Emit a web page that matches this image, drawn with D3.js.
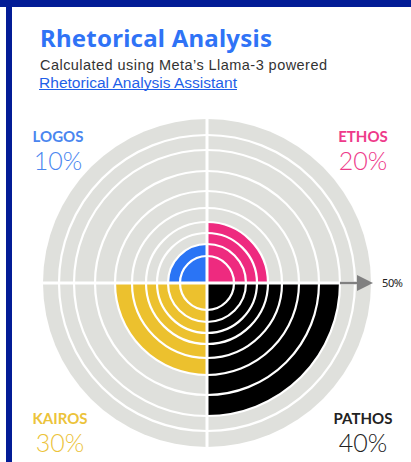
<!DOCTYPE html>
<html>
<head>
<meta charset="utf-8">
<script src="https://cdn.jsdelivr.net/npm/d3@7"></script>
<style>
  body { margin: 0; background: #fff; }
  svg { display: block; }
</style>
</head>
<body>
<div class="viz"></div>
<script>
// data
var categories = ["LOGOS", "ETHOS", "PATHOS", "KAIROS"];
var values = [10, 20, 40, 30];
var colors = ["#2a74f5", "#ee2a7f", "#000000", "#ecc12e"];
var labelColors = ["#4a86ef", "#ee3a8a", "#222222", "#ecc33a"];
var ringSteps = [5, 10, 15, 20, 25, 30, 35, 40, 45];
var maxValue = 50;

// dimensions
var width = 411, height = 462;
var cx = 207, cy = 283;

// radial scale (read off the picture, not linear)
var rScale = d3.scaleLinear()
    .domain([0, 5, 10, 15, 20, 25, 30, 35, 40, 45, 50])
    .range([0, 27, 39, 50, 61, 75, 92, 112, 133, 148, 164]);

var svg = d3.select(".viz")
    .append("svg")
    .attr("width", width)
    .attr("height", height);

// frame
svg.append("rect").attr("x", 0).attr("y", 0).attr("width", width).attr("height", 7).attr("fill", "#031c96");
svg.append("rect").attr("x", 6).attr("y", 0).attr("width", 6).attr("height", height).attr("fill", "#031c96");

// titles
svg.append("text")
    .attr("x", 40).attr("y", 47)
    .attr("textLength", 232).attr("lengthAdjust", "spacing")
    .style("font-family", "'Noto Sans', sans-serif")
    .style("font-weight", "700")
    .style("font-size", "24px")
    .attr("fill", "#2f73f6")
    .text("Rhetorical Analysis");
svg.append("text")
    .attr("x", 40).attr("y", 70)
    .attr("textLength", 287).attr("lengthAdjust", "spacing")
    .style("font-family", "'Liberation Sans', sans-serif")
    .style("font-size", "14.5px")
    .attr("fill", "#333")
    .text("Calculated using Meta\u2019s Llama-3 powered");
svg.append("text")
    .attr("x", 39).attr("y", 87.5)
    .attr("textLength", 198).attr("lengthAdjust", "spacingAndGlyphs")
    .style("font-family", "'Liberation Sans', sans-serif")
    .style("font-size", "14px")
    .attr("fill", "#1f5fe8")
    .text("Rhetorical Analysis Assistant");
// underline drawn as one line so it stays continuous
svg.append("line")
    .attr("x1", 39).attr("x2", 237)
    .attr("y1", 89.5).attr("y2", 89.5)
    .attr("stroke", "#1f5fe8").attr("stroke-width", 1);

var g = svg.append("g").attr("transform", "translate(" + cx + "," + cy + ")");

// grey background disc
g.append("circle").attr("r", rScale(maxValue)).attr("fill", "#dfe0dc");

// quadrant wedges
var angles = {
    LOGOS: [-Math.PI / 2, 0],
    ETHOS: [0, Math.PI / 2],
    PATHOS: [Math.PI / 2, Math.PI],
    KAIROS: [Math.PI, Math.PI * 1.5]
};
var arc = d3.arc().innerRadius(0);

g.selectAll(".wedge")
    .data(categories)
    .enter()
    .append("path")
    .attr("class", "wedge")
    .attr("d", (d, i) => arc({ outerRadius: rScale(values[i]), startAngle: angles[d][0], endAngle: angles[d][1] }))
    .attr("fill", (d, i) => colors[i]);

// white rings
g.selectAll(".ring")
    .data(ringSteps)
    .enter()
    .append("circle")
    .attr("class", "ring")
    .attr("r", d => rScale(d))
    .attr("fill", "none")
    .attr("stroke", "#fff")
    .attr("stroke-width", 2.2);

// white cross
var R = rScale(maxValue);
g.append("line").attr("x1", -R).attr("x2", R).attr("y1", 0).attr("y2", 0).attr("stroke", "#fff").attr("stroke-width", 3);
g.append("line").attr("y1", -R).attr("y2", R).attr("x1", 0).attr("x2", 0).attr("stroke", "#fff").attr("stroke-width", 3);

// arrow to max value
var maxCat = values.indexOf(d3.max(values));
var x0 = rScale(values[maxCat]);
g.append("line")
    .attr("x1", x0).attr("x2", R - 12)
    .attr("y1", 0).attr("y2", 0)
    .attr("stroke", "#808080").attr("stroke-width", 2.5);
g.append("path")
    .attr("d", "M" + (R - 14) + ",-8L" + (R + 2) + ",0L" + (R - 14) + ",8Z")
    .attr("fill", "#808080");
g.append("text")
    .attr("x", R + 11).attr("y", 4)
    .style("font-family", "'Noto Sans', sans-serif")
    .style("font-size", "11px")
    .style("letter-spacing", "-0.4px")
    .attr("fill", "#222")
    .text(maxValue + "%");

// corner labels
var labelPos = {
    LOGOS: [58, 142],
    ETHOS: [363, 142],
    PATHOS: [363, 424],
    KAIROS: [60, 424]
};
categories.forEach(function(d, i) {
    svg.append("text")
        .attr("x", labelPos[d][0]).attr("y", labelPos[d][1])
        .attr("text-anchor", "middle")
        .style("font-family", "Lato, sans-serif")
        .style("font-weight", "700")
        .style("font-size", "15px")
        .attr("fill", labelColors[i])
        .text(d);
    svg.append("text")
        .attr("x", labelPos[d][0]).attr("y", labelPos[d][1] + 28)
        .attr("text-anchor", "middle")
        .style("font-family", "Lato, sans-serif")
        .style("font-weight", "300")
        .style("font-size", "25px")
        .attr("fill", labelColors[i])
        .text(values[i] + "%");
});
</script>
</body>
</html>
